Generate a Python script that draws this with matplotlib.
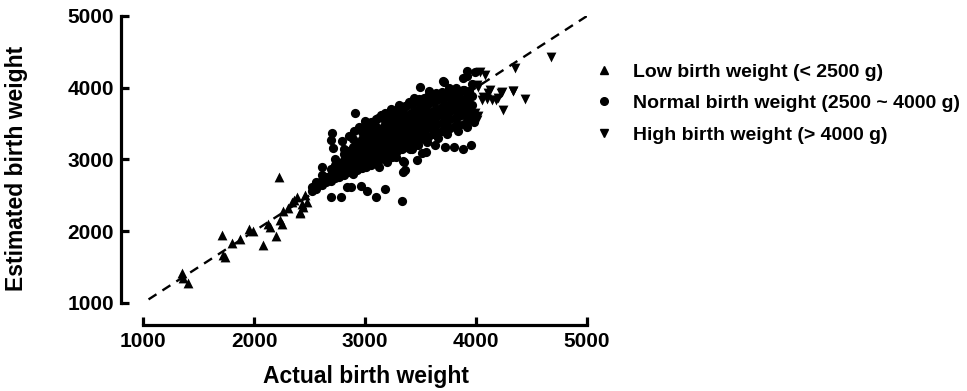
import matplotlib
matplotlib.use("Agg")
import matplotlib.pyplot as plt
from matplotlib.lines import Line2D

plt.rcParams['font.family'] = ['Liberation Sans', 'DejaVu Sans']
plt.rcParams['font.weight'] = 'bold'

# ---------------- data ----------------
x_ticks = [1000, 2000, 3000, 4000, 5000]
y_ticks = [1000, 2000, 3000, 4000, 5000]
identity_line = [1050, 5000]

labels = ["Low birth weight (< 2500 g)",
          "Normal birth weight (2500 ~ 4000 g)",
          "High birth weight (> 4000 g)"]

low_actual = [2228, 1709, 1799, 1874, 1958, 1988, 2129, 2144, 2084, 2195, 2234, 2249,
              2264, 2340, 2385, 2414, 2444, 2474, 2430, 2418, 1724, 1739, 1349, 1363,
              1408, 2310, 2360, 2455]
low_estimated = [2761, 1948, 1832, 1888, 2027, 2004, 2101, 2064, 1809, 1934, 2157, 2101,
                 2282, 2412, 2482, 2273, 2342, 2412, 2380, 2250, 1669, 1637, 1414, 1344,
                 1275, 2330, 2440, 2500]

high_actual = [4673, 4351, 4441, 4336, 4231, 4246, 4180, 4126, 4096, 4051, 4006, 4081,
               4036, 3991, 4006, 4014, 4108, 4142, 4194, 4228, 4332, 4060, 4020]
high_estimated = [4425, 4272, 3839, 3960, 3946, 3690, 3830, 3969, 3839, 3830, 4039, 4178,
                  4224, 3644, 3551, 4007, 3923, 3830, 3853, 3923, 3960, 3870, 3600]

normal_points = [
    # scattered points around the cloud
    (2910, 3653), (3000, 3541), (2700, 3366), (2691, 3272), (2709, 3156), (2790, 3262),
    (2610, 2892), (2691, 2482), (2781, 2482), (2841, 2621), (2870, 2610), (2961, 2631),
    (3021, 2566), (3099, 2482), (3180, 2593), (3330, 2426), (3240, 3040), (3339, 2985),
    (3360, 2854), (3405, 3143), (3466, 2994), (3511, 3096), (3550, 3100), (3631, 3203),
    (3721, 3170), (3802, 3170), (3880, 3143), (3495, 4016), (3705, 4099), (3886, 3969),
    (3916, 4164), (3502, 3808), (3360, 3739), (3225, 3644), (3120, 3575), (3280, 3690),
    (3339, 2822), (3349, 2970), (3952, 3203), (3711, 4085), (3918, 4240), (3987, 4226),
    (3883, 4132), (3960, 4050), (3940, 3950),
    # upper edge of the cloud
    (2860, 3330), (2900, 3400), (2950, 3450), (3000, 3480), (3050, 3520), (3060, 3470),
    (3100, 3560), (3140, 3620), (3180, 3650), (3230, 3700), (3260, 3620), (3310, 3760),
    (3400, 3800), (3440, 3860), (3580, 3960), (3640, 3930), (3760, 4000), (3820, 3990),
    # lower edge of the cloud
    (3130, 2900), (3200, 2960), (3280, 3030), (3420, 3150), (3480, 3200), (3560, 3240),
    (3660, 3300), (3740, 3350), (3840, 3400), (3920, 3450), (3980, 3520),
    # dense core
    (2520, 2560), (2520, 2620), (2560, 2590), (2560, 2680), (2610, 2640), (2610, 2720),
    (2610, 2780), (2650, 2690), (2650, 2760), (2690, 2700), (2690, 2790), (2690, 2870),
    (2730, 2740), (2730, 2820), (2730, 2930), (2730, 3010), (2770, 2760), (2770, 2850),
    (2770, 2950), (2810, 2790), (2810, 2880), (2810, 2990), (2810, 3080), (2810, 3150),
    (2850, 2820), (2850, 2910), (2850, 3020), (2850, 3120), (2890, 2800), (2890, 2870),
    (2890, 2960), (2890, 3060), (2890, 3180), (2890, 3290), (2930, 2850), (2930, 2940),
    (2930, 3040), (2930, 3140), (2930, 3230), (2970, 2880), (2970, 2980), (2970, 3080),
    (2970, 3170), (2970, 3280), (2970, 3380), (3010, 2900), (3010, 3000), (3010, 3110),
    (3010, 3210), (3010, 3320), (3010, 3420), (3050, 2930), (3050, 3040), (3050, 3150),
    (3050, 3250), (3050, 3360), (3090, 2960), (3090, 3060), (3090, 3170), (3090, 3280),
    (3090, 3390), (3090, 3480), (3130, 2990), (3130, 3100), (3130, 3200), (3130, 3310),
    (3130, 3420), (3170, 3020), (3170, 3130), (3170, 3240), (3170, 3350), (3170, 3460),
    (3170, 3570), (3210, 3060), (3210, 3160), (3210, 3270), (3210, 3380), (3210, 3490),
    (3210, 3600), (3250, 3090), (3250, 3200), (3250, 3300), (3250, 3410), (3250, 3520),
    (3290, 3120), (3290, 3230), (3290, 3340), (3290, 3450), (3290, 3560), (3290, 3680),
    (3330, 3150), (3330, 3260), (3330, 3370), (3330, 3480), (3330, 3590), (3330, 3700),
    (3370, 3180), (3370, 3290), (3370, 3400), (3370, 3510), (3370, 3620), (3370, 3740),
    (3410, 3210), (3410, 3320), (3410, 3430), (3410, 3540), (3410, 3650), (3410, 3770),
    (3450, 3250), (3450, 3350), (3450, 3460), (3450, 3570), (3450, 3680), (3450, 3800),
    (3490, 3270), (3490, 3380), (3490, 3490), (3490, 3600), (3490, 3710), (3490, 3840),
    (3530, 3300), (3530, 3410), (3530, 3520), (3530, 3630), (3530, 3740), (3530, 3860),
    (3570, 3320), (3570, 3440), (3570, 3550), (3570, 3660), (3570, 3770), (3570, 3890),
    (3610, 3350), (3610, 3460), (3610, 3570), (3610, 3680), (3610, 3800), (3610, 3910),
    (3650, 3380), (3650, 3490), (3650, 3600), (3650, 3710), (3650, 3830), (3690, 3400),
    (3690, 3510), (3690, 3620), (3690, 3730), (3690, 3850), (3690, 3940), (3730, 3420),
    (3730, 3530), (3730, 3640), (3730, 3750), (3730, 3870), (3770, 3440), (3770, 3560),
    (3770, 3670), (3770, 3780), (3770, 3890), (3770, 3960), (3810, 3460), (3810, 3580),
    (3810, 3690), (3810, 3800), (3810, 3910), (3850, 3480), (3850, 3600), (3850, 3710),
    (3850, 3820), (3850, 3930), (3890, 3500), (3890, 3620), (3890, 3730), (3890, 3850),
    (3890, 3970), (3930, 3550), (3930, 3680), (3930, 3800), (3930, 3900), (3960, 3620),
    (3960, 3760), (3960, 3880),
]
normal_actual = [p[0] for p in normal_points]
normal_estimated = [p[1] for p in normal_points]

# ---------------- figure ----------------
fig = plt.figure(figsize=(9.67, 3.91), dpi=100)
ax = fig.add_axes([143 / 967, 1 - 303 / 391, 444 / 967, 287 / 391])

ax.plot(identity_line, identity_line, linestyle=(0, (4, 3)), color='black', lw=1.7, zorder=1)
ax.scatter(normal_actual, normal_estimated, marker='o', s=44, color='black', linewidths=0, zorder=2)
ax.scatter(low_actual, low_estimated, marker='^', s=50, color='black', linewidths=0, zorder=3)
ax.scatter(high_actual, high_estimated, marker='v', s=50, color='black', linewidths=0, zorder=3)

ax.set_xlim(1000, 5000)
ax.set_ylim(1000, 5000)
ax.set_xticks(x_ticks)
ax.set_yticks(y_ticks)
for s in ['top', 'right']:
    ax.spines[s].set_visible(False)
ax.spines['left'].set_position(('outward', 16))
ax.spines['bottom'].set_position(('outward', 16))
for s in ['left', 'bottom']:
    ax.spines[s].set_linewidth(2.3)
ax.tick_params(direction='in', length=5.8, width=2.3, labelsize=15, pad=5)
for t in ax.get_xticklabels() + ax.get_yticklabels():
    t.set_fontweight('bold')

ax.set_xlabel("Actual birth weight", fontsize=16.5, fontweight='bold')
ax.set_ylabel("Estimated birth weight", fontsize=16.5, fontweight='bold')
ax.xaxis.set_label_coords(0.502, -0.215)
ax.yaxis.set_label_coords(-0.258, 0.47)

handles = [Line2D([], [], marker='^', linestyle='none', color='black', markersize=5.5),
           Line2D([], [], marker='o', linestyle='none', color='black', markersize=5.5),
           Line2D([], [], marker='v', linestyle='none', color='black', markersize=5.5)]
leg = fig.legend(handles, labels, loc='upper left', bbox_to_anchor=(594 / 967, 1 - 63 / 391),
                 frameon=False, prop={'weight': 'bold', 'size': 14}, handlelength=1.0,
                 handletextpad=1.0, labelspacing=0.72, borderpad=0, borderaxespad=0)

fig.savefig("out.png", dpi=100)
